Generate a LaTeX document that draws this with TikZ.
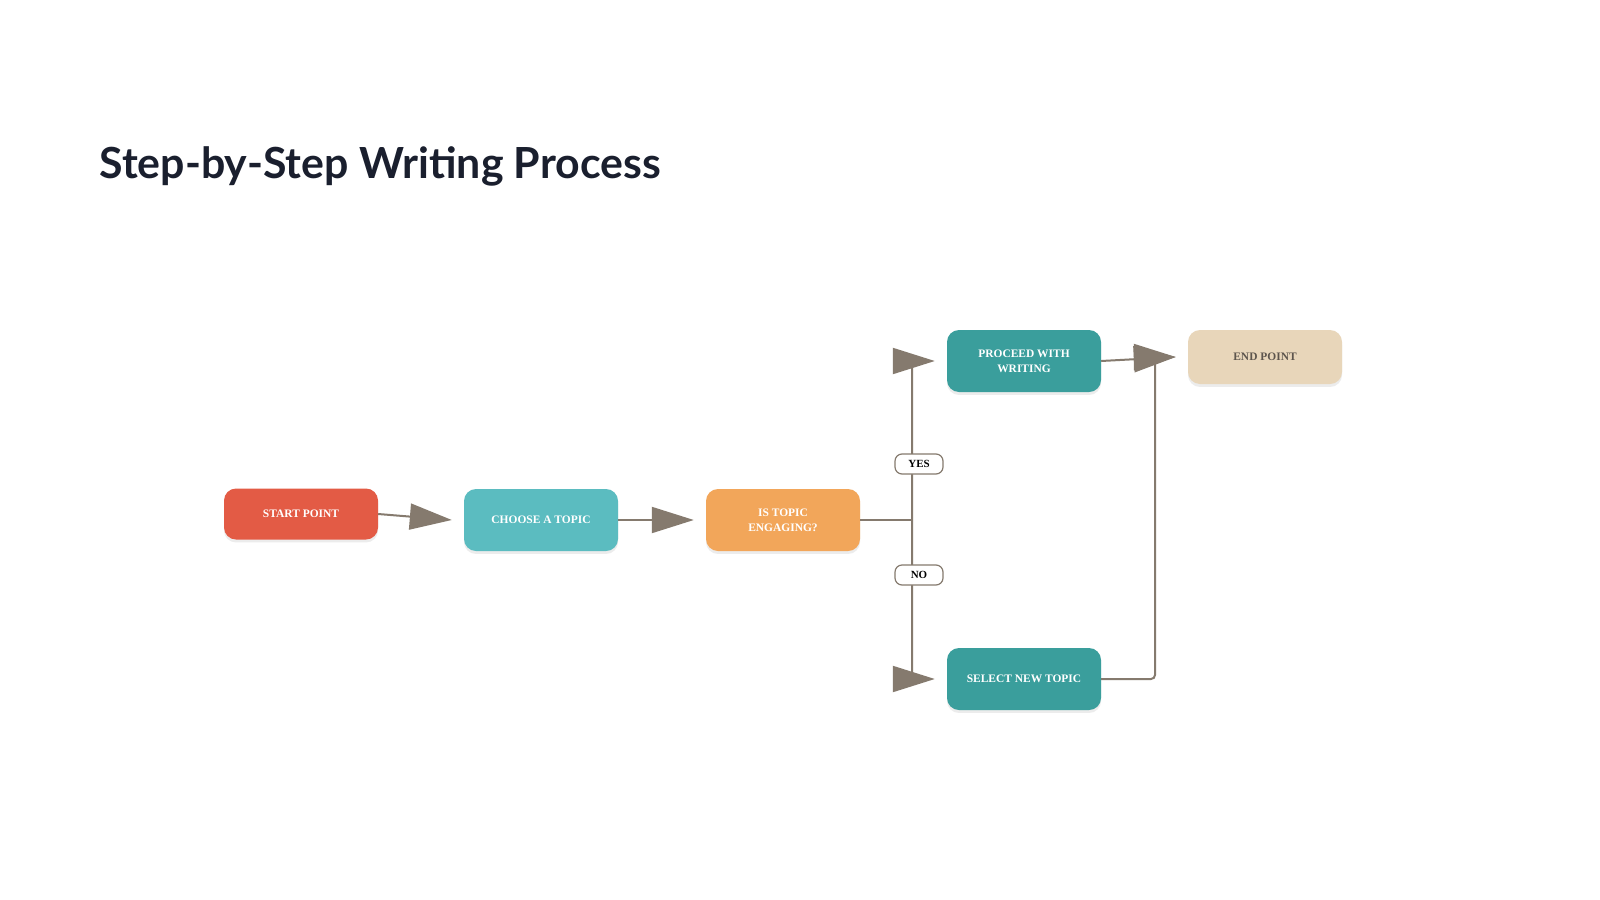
\documentclass[tikz,border=0pt]{standalone}
\usepackage{fontspec}
\setmainfont{Liberation Serif}
\newfontfamily\titlefont{Lato}
\usetikzlibrary{arrows.meta,shadows}
\definecolor{cStart}{HTML}{E35B45}
\definecolor{cChoose}{HTML}{5BBCC0}
\definecolor{cEng}{HTML}{F2A65A}
\definecolor{cTeal}{HTML}{3A9E9C}
\definecolor{cEnd}{HTML}{E8D6BA}
\definecolor{cArr}{HTML}{857A6E}
\definecolor{cTitle}{HTML}{1A1F2E}
\begin{document}
\begin{tikzpicture}[x=1bp,y=-1bp,
  box/.style={rounded corners=12bp,minimum width=154bp,minimum height=62bp,align=center,text=white,
     font=\fontsize{11.5}{15}\selectfont\bfseries,inner sep=2pt,drop shadow={opacity=0.15,shadow xshift=0pt,shadow yshift=-3pt}},
  con/.style={draw=cArr,line width=2bp},
  arr/.style={con,-{Triangle[length=42bp,width=26bp]}},
  lab/.style={draw=cArr,line width=1.2bp,fill=white,rounded corners=7bp,font=\fontsize{11}{12}\selectfont\bfseries,inner sep=3pt,minimum width=48bp,minimum height=20bp}]
\useasboundingbox (0,0) rectangle (1600,899);
\fill[white] (0,0) rectangle (1600,899);
\node[anchor=base west,text=cTitle,font=\titlefont\fontsize{43}{50}\selectfont\bfseries] (title) at (96,178) {Step-by-Step Writing Process};
\node[box,fill=cStart,minimum height=51bp] (start) at (301,514) {START POINT};
\node[box,fill=cChoose] (choose) at (541,520) {CHOOSE A TOPIC};
\node[box,fill=cEng] (eng) at (783,520) {IS TOPIC\\ENGAGING?};
\node[box,fill=cTeal] (proc) at (1024,361) {PROCEED WITH\\WRITING};
\node[box,fill=cEnd,minimum height=54bp,text=cArr!70!black] (end) at (1265,357) {END POINT};
\node[box,fill=cTeal] (sel) at (1024,679) {SELECT NEW TOPIC};
\coordinate (br) at (912,520);
\coordinate (ri) at (1155,679);
\draw[arr] (start.east) -- ([xshift=-12bp]choose.west);
\draw[arr] (choose.east) -- ([xshift=-12bp]eng.west);
\draw[con] (eng.east) -- (br);
\draw[arr,rounded corners=4bp] (br) |- ([xshift=-12bp]proc.west);
\draw[arr,rounded corners=4bp] (br) |- ([xshift=-12bp]sel.west);
\node[lab] (yes) at (919,464) {YES};
\node[lab] (no) at (919,575) {NO};
\draw[arr,rounded corners=4bp] (sel.east) -- (ri) |- ([xshift=-12bp]end.west);
\draw[arr] (proc.east) -- ([xshift=-12bp]end.west);
\end{tikzpicture}
\end{document}
